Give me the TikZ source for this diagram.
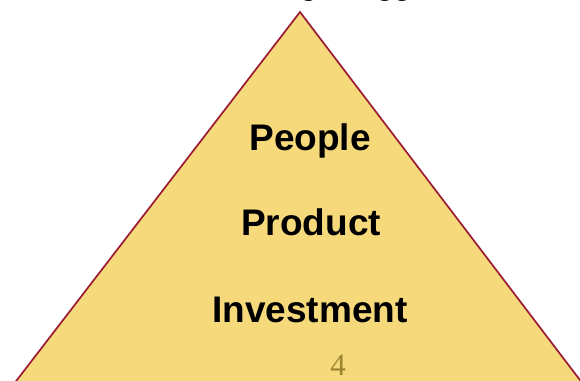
\documentclass[tikz,border=0pt]{standalone}
\usepackage{fontspec}
\setmainfont{Liberation Sans}
\newfontfamily\serifnum{Liberation Serif}
\definecolor{tri}{HTML}{F6D97B}
\definecolor{edge}{HTML}{9A1B32}
\definecolor{numc}{HTML}{9C8630}
\tikzset{
  big/.style={font=\fontsize{37}{40}\selectfont\bfseries, anchor=base, inner sep=0pt},
  title/.style={font=\fontsize{28}{30}\selectfont\bfseries, anchor=base west, inner sep=0pt},
}
\begin{document}
\begin{tikzpicture}[x=1pt,y=-1pt]
\useasboundingbox (0,0) rectangle (580,380);
\clip (0,0) rectangle (580,380);
\coordinate (apex) at (300,12);
\coordinate (bl) at (-60,480);
\coordinate (br) at (656,480);
\path[fill=tri, draw=edge, line width=1.7pt, line join=miter] (apex) -- (bl) -- (br) -- cycle;
\node[title] (ttl) at (182,-4.5) {Becoming a Bigger Firm,};
\node[big] (people) at (310,150) {People};
\node[big] (product) at (311,235) {Product};
\node[big] (invest) at (310,322) {Investment};
\node[font=\serifnum\fontsize{31}{33}\selectfont, text=numc, anchor=base, inner sep=0pt] (num) at (338,375) {4};
\end{tikzpicture}
\end{document}
